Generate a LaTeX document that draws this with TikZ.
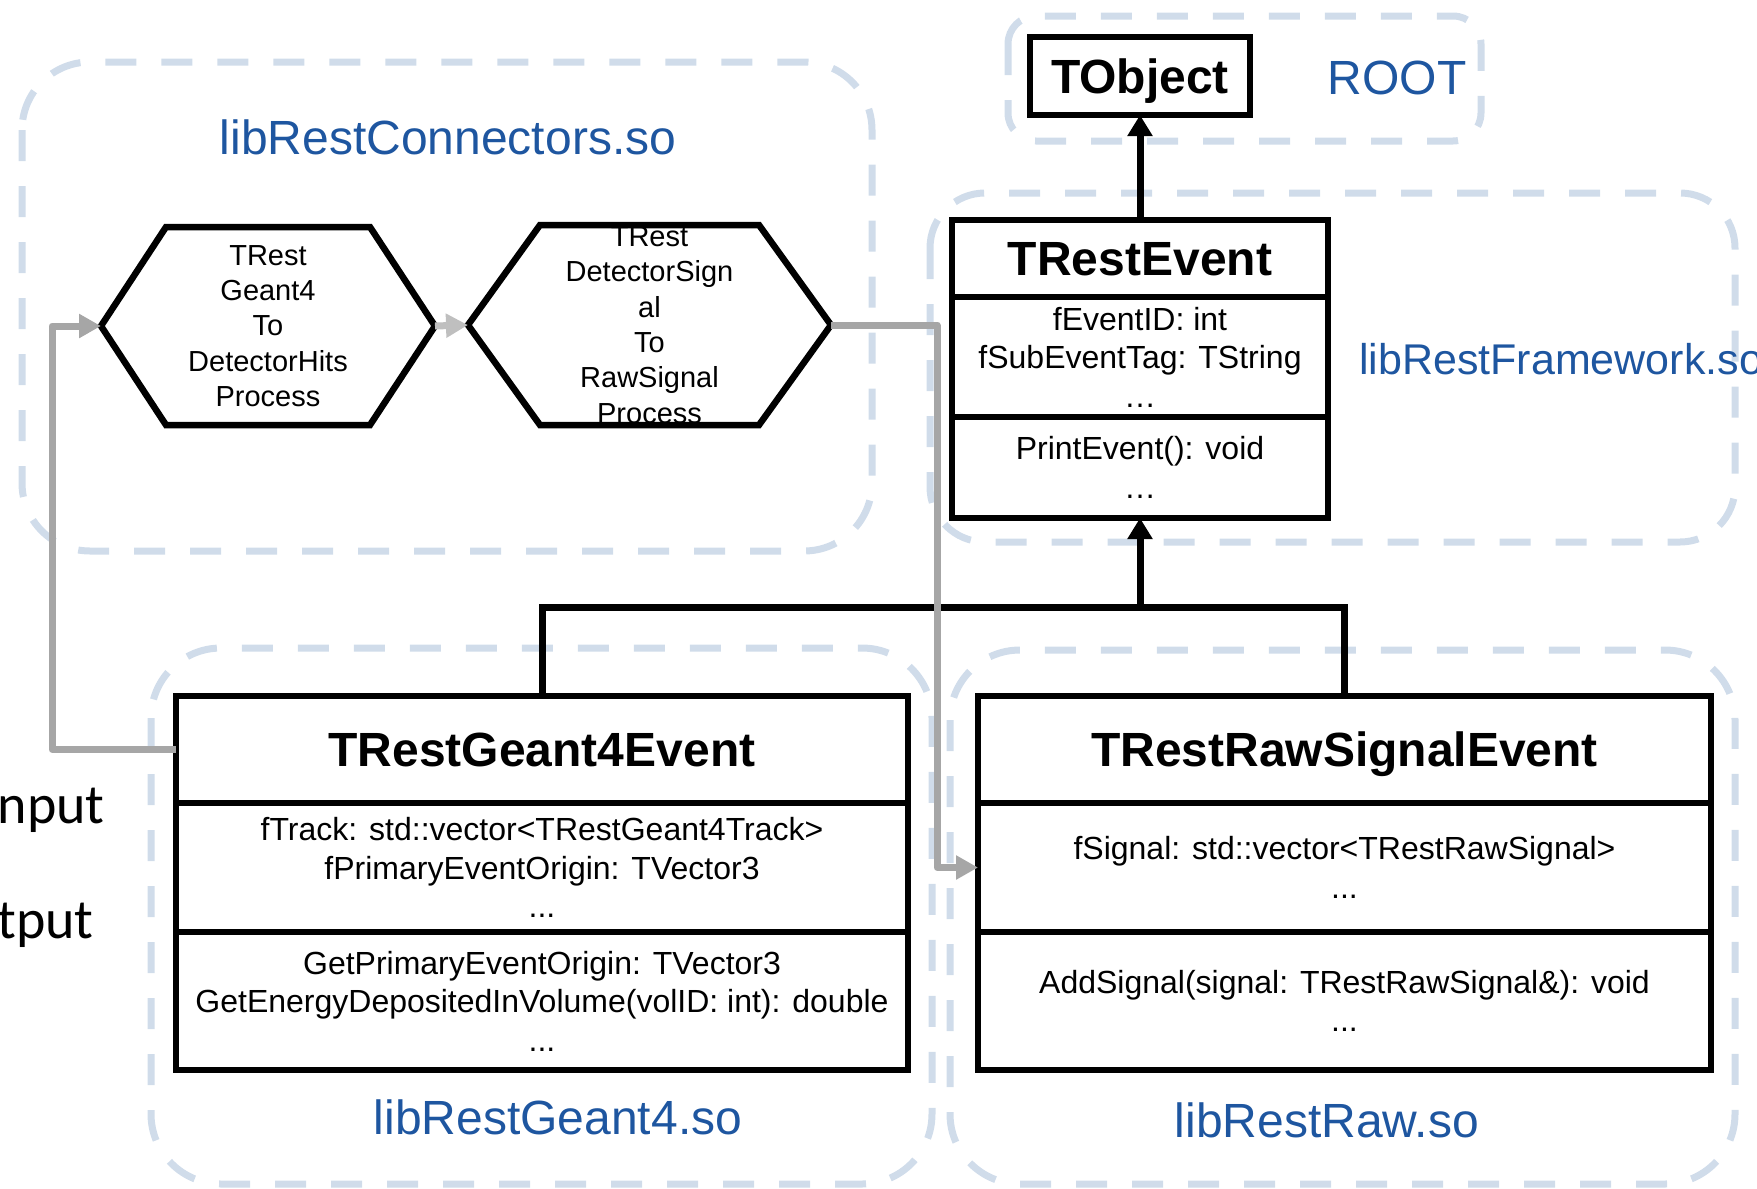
\documentclass[tikz,border=0pt]{standalone}
\usepackage{fontspec}
\setmainfont{Liberation Sans}
\newfontfamily\calibrifont{Carlito}
\usetikzlibrary{arrows.meta,positioning}
\definecolor{libblue}{RGB}{30,86,160}
\definecolor{libdash}{RGB}{208,220,234}
\definecolor{flowgray}{RGB}{166,166,166}
\definecolor{flowlight}{RGB}{191,191,191}
\newcommand{\hexpath}[4]{(#1.west) -- ++(#2,-#4) -- ++(#3,0) -- (#1.east) -- ++(-#2,#4) -- ++(-#3,0) -- cycle}

\begin{document}
\begin{tikzpicture}[x=1pt, y=-1pt,
    libbox/.style={draw=libdash, line width=7pt, dash pattern=on 31pt off 25pt},
    liblabel/.style={text=libblue, inner sep=0pt, font=\fontsize{48}{57}\selectfont},
    classtitle/.style={draw, fill=white, line width=6pt, outer sep=0pt, text depth=0pt, font=\fontsize{48}{57}\selectfont\bfseries},
    classpart/.style={draw, fill=white, line width=6pt, outer sep=0pt, align=center, font=\fontsize{32}{38.5}\selectfont},
    hexbox/.style={inner sep=0pt, outer sep=0pt, align=center, font=\fontsize{29}{35.3}\selectfont},
    hexline/.style={line width=6.5pt, line join=miter},
    tree/.style={line width=7pt},
    inherit/.style={line width=7pt, -{Triangle[length=21pt, width=24pt]}},
    flow/.style={draw=flowgray, line width=7pt, line join=round, -{Triangle[length=22pt, width=23pt]}},
    iolabel/.style={anchor=base east, inner sep=0pt, font=\calibrifont\fontsize{56}{62}\selectfont}]
    \useasboundingbox (0,0) rectangle (1757,1189);

    \draw[libbox, rounded corners=68pt] (22,62) rectangle (872,551);
    \draw[libbox, rounded corners=28pt] (1008,16) rectangle (1481,141);
    \draw[libbox, rounded corners=55pt] (930,193) rectangle (1735,542);
    \draw[libbox, rounded corners=70pt] (151,648) rectangle (932,1184);
    \draw[libbox, rounded corners=70pt] (950,650) rectangle (1735,1184);

    \node[liblabel] (conlab) at (448,137) {libRestConnectors.so};
    \node[liblabel] (rootlab) at (1397,78) {ROOT};
    \node[liblabel, anchor=west, font=\fontsize{43}{52}\selectfont] (fwlab) at (1359,359) {libRestFramework.so};
    \node[liblabel] (g4lab) at (558,1117) {libRestGeant4.so};
    \node[liblabel] (rawlab) at (1327,1120) {libRestRaw.so};

    \node[iolabel] (inlab) at (105,823) {Input};
    \node[iolabel] (outlab) at (94,938) {Output};

    \node[classtitle, minimum width=220pt, minimum height=78pt] (tobj) at (1140,76) {TObject};

    \node[classtitle, minimum width=376pt, minimum height=77pt] (restev) at (1140,258.5) {TRestEvent};
    \node[classpart, minimum width=376pt, minimum height=120pt, below=0pt of restev] (restattr) {fEventID: int\\fSubEventTag: TString\\…};
    \node[classpart, minimum width=376pt, minimum height=101pt, below=0pt of restattr] (restmeth) {PrintEvent(): void\\…};

    \node[classtitle, minimum width=732pt, minimum height=107pt] (g4ev) at (542,749.5) {TRestGeant4Event};
    \node[classpart, minimum width=732pt, minimum height=129pt, below=0pt of g4ev] (g4attr) {fTrack: std::vector<TRestGeant4Track>\\fPrimaryEventOrigin: TVector3\\...};
    \node[classpart, minimum width=732pt, minimum height=138pt, below=0pt of g4attr] (g4meth) {GetPrimaryEventOrigin: TVector3\\GetEnergyDepositedInVolume(volID: int): double\\...};

    \node[classtitle, minimum width=733pt, minimum height=107pt] (rawev) at (1344.5,749.5) {TRestRawSignalEvent};
    \node[classpart, minimum width=733pt, minimum height=129pt, below=0pt of rawev] (rawattr) {fSignal: std::vector<TRestRawSignal>\\...};
    \node[classpart, minimum width=733pt, minimum height=138pt, below=0pt of rawattr] (rawmeth) {AddSignal(signal: TRestRawSignal\&): void\\...};

    \node[hexbox, minimum width=334pt, minimum height=198pt] (g4hits) at (268,326) {TRest\\Geant4\\To\\DetectorHits\\Process};
    \draw[hexline] \hexpath{g4hits}{65}{204}{99};

    \node[hexbox, minimum width=363pt, minimum height=200pt] (sigraw) at (649.5,325) {};
    \begin{scope}
        \clip \hexpath{sigraw}{72}{219}{100};
        \node[hexbox] (sigrawtext) at (sigraw) {TRest\\DetectorSign\\al\\To\\RawSignal\\Process};
    \end{scope}
    \draw[hexline] \hexpath{sigraw}{72}{219}{100};

    \coordinate (junc) at (1140,607);
    \draw[tree] (g4ev.north) |- (junc) -| (rawev.north);
    \draw[inherit] (junc) -- (restmeth.south);
    \draw[inherit] (restev.north) -- (tobj.south);

    \draw[flow] (g4ev.west) -- ++(-124,0) |- (g4hits.west);
    \draw[flow, draw=flowlight] (g4hits.east) -- (sigraw.west);
    \draw[flow] (sigraw.east) -- ++(106,0) |- (rawattr.west);
\end{tikzpicture}
\end{document}
